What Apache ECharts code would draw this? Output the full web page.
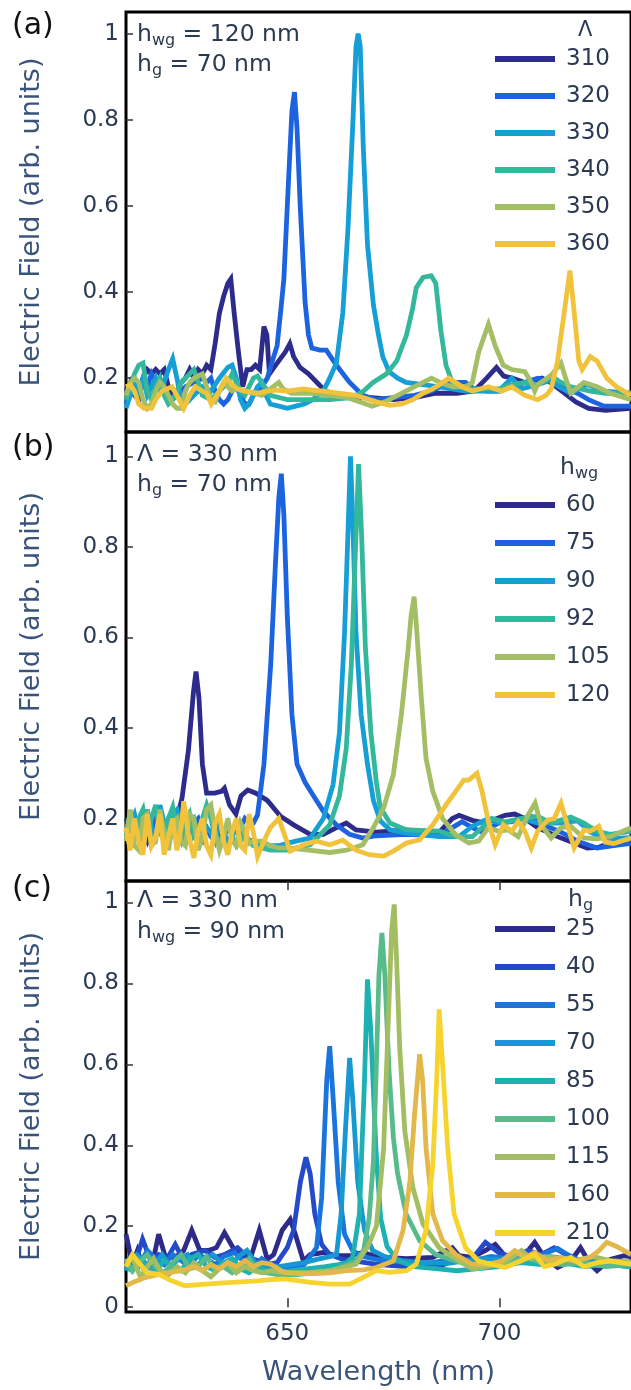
<!DOCTYPE html>
<html>
<head>
<meta charset="utf-8">
<script src="https://cdn.jsdelivr.net/npm/echarts@6/dist/echarts.min.js"></script>
<style>
  html, body { margin: 0; padding: 0; background: #fff; }
  #chart { width: 631px; height: 1390px; }
</style>
</head>
<body>
<div id="chart"></div>
<script>
// ---- data: [wavelength (nm), electric field (arb. units)] ----

// (a) period sweep, h_wg = 120 nm, h_g = 70 nm
const namesA = ['310', '320', '330', '340', '350', '360'];
const a310 = [[612,0.17],[613,0.19],[614,0.16],[615,0.15],[616,0.2],[617,0.22],[618,0.21],[619,0.22],[620,0.21],[621,0.22],[622,0.18],[623,0.16],[624,0.17],[625,0.19],[626,0.2],[627,0.22],[628,0.2],[629,0.22],[630,0.21],[631,0.23],[632,0.22],[633,0.28],[634,0.35],[635,0.39],[636,0.42],[636.7,0.43],[637.5,0.35],[638.5,0.26],[639.5,0.18],[640.5,0.22],[641.5,0.22],[642.5,0.23],[643.5,0.22],[644.5,0.32],[645.2,0.3],[645.8,0.21],[646.5,0.22],[648,0.24],[649.5,0.26],[650.6,0.28],[651.5,0.25],[653,0.225],[655,0.21],[657,0.19],[659,0.17],[662,0.16],[666,0.155],[670,0.155],[675,0.15],[680,0.155],[685,0.165],[690,0.165],[694,0.17],[697,0.2],[699.3,0.225],[701,0.205],[703,0.2],[706,0.19],[708,0.195],[710,0.2],[712,0.19],[714,0.175],[716,0.16],[718,0.145],[721,0.13],[725,0.125],[731,0.13]];
const a320 = [[612,0.14],[613,0.17],[614,0.2],[615,0.17],[616,0.2],[617,0.18],[618,0.21],[619,0.19],[620,0.2],[621,0.17],[622,0.16],[623,0.15],[624,0.16],[626,0.18],[628,0.19],[630,0.2],[631,0.19],[632,0.2],[633,0.17],[634,0.15],[635,0.14],[636,0.15],[637,0.17],[638,0.18],[639,0.16],[640,0.14],[641,0.14],[642,0.16],[643,0.17],[644,0.18],[645.3,0.2],[646.5,0.24],[647.6,0.275],[648.5,0.36],[649.2,0.43],[650.3,0.66],[651.1,0.82],[651.7,0.864],[652.3,0.78],[653.1,0.59],[654.2,0.376],[655,0.3],[655.8,0.27],[657.7,0.265],[659.2,0.265],[661.6,0.23],[664.7,0.19],[667.8,0.16],[671,0.15],[675,0.155],[680,0.16],[684,0.17],[686,0.18],[689,0.19],[692,0.19],[694,0.175],[697,0.17],[700,0.17],[703,0.18],[706,0.19],[709,0.2],[711,0.195],[713,0.19],[716,0.175],[718.4,0.165],[721,0.15],[724.6,0.135],[731,0.135]];
const a330 = [[612,0.13],[613,0.16],[614,0.19],[615,0.17],[616,0.2],[617,0.16],[618,0.18],[619,0.2],[620,0.17],[621,0.19],[622,0.22],[623,0.245],[624,0.2],[625,0.15],[626,0.14],[628,0.16],[630,0.18],[632,0.17],[634,0.2],[636,0.225],[637,0.23],[638,0.2],[639,0.15],[640,0.13],[641,0.14],[642,0.16],[643,0.18],[644,0.19],[645,0.16],[646,0.14],[648,0.135],[650,0.13],[652,0.135],[654,0.14],[656,0.15],[658.5,0.17],[660,0.2],[661.6,0.236],[663.1,0.353],[664.3,0.546],[665.4,0.78],[666.2,0.97],[666.7,1.0],[667.2,0.97],[667.9,0.74],[668.9,0.51],[670.3,0.37],[671.5,0.3],[672.5,0.25],[674,0.215],[676,0.2],[678,0.19],[682,0.185],[685.8,0.18],[692,0.17],[696,0.17],[699.8,0.17],[702.9,0.2],[705.2,0.175],[709,0.185],[712,0.195],[714,0.18],[716.8,0.165],[720.7,0.185],[724.6,0.17],[731,0.165]];
const a340 = [[612,0.15],[613,0.18],[614,0.21],[615,0.23],[616,0.235],[617,0.17],[618,0.15],[619,0.18],[620,0.2],[621,0.16],[622,0.14],[623,0.15],[624,0.17],[625,0.19],[626,0.2],[627,0.21],[628,0.22],[629,0.19],[630,0.16],[632,0.15],[634,0.17],[636,0.19],[637,0.21],[638,0.19],[639,0.17],[640,0.16],[641,0.18],[642,0.2],[643,0.205],[644,0.19],[646,0.16],[648,0.155],[650,0.15],[655,0.15],[660,0.15],[665,0.155],[668,0.17],[670.2,0.19],[673.4,0.21],[675.8,0.24],[678.1,0.3],[679.5,0.36],[680.4,0.41],[682,0.434],[683.9,0.438],[685,0.42],[686.2,0.31],[687.4,0.23],[688.9,0.19],[692,0.175],[696.7,0.175],[699.8,0.175],[702.9,0.185],[706,0.19],[709,0.185],[712.2,0.205],[714.5,0.19],[716.8,0.18],[721.4,0.17],[725,0.165],[731,0.165]];
const a350 = [[612,0.16],[613,0.19],[614,0.2],[615,0.19],[616,0.15],[617,0.13],[618,0.14],[619,0.17],[620,0.19],[621,0.18],[622,0.16],[623,0.14],[624,0.13],[625,0.13],[626,0.17],[627,0.19],[628,0.2],[629,0.205],[630,0.21],[631,0.18],[632,0.15],[633,0.145],[634,0.17],[635,0.19],[636,0.18],[637,0.17],[638,0.175],[640,0.17],[642,0.165],[644,0.16],[646,0.175],[648,0.19],[649,0.175],[651,0.165],[655,0.165],[660,0.16],[664,0.155],[667,0.145],[670,0.135],[673,0.145],[676,0.16],[679,0.175],[682,0.19],[684,0.2],[686,0.19],[689,0.18],[692,0.18],[693.6,0.19],[695.1,0.26],[697.4,0.325],[699,0.275],[700.9,0.23],[702.9,0.22],[706,0.215],[707.5,0.19],[708.3,0.17],[709,0.185],[710.6,0.195],[712.5,0.21],[714.5,0.235],[715.6,0.2],[716.8,0.165],[719.9,0.19],[723,0.18],[726.1,0.165],[731,0.15]];
const a360 = [[612,0.18],[613,0.185],[614,0.17],[615,0.14],[616.3,0.13],[618,0.13],[619,0.15],[620.5,0.17],[622.8,0.18],[624,0.16],[625.6,0.13],[627,0.16],[628.3,0.18],[630,0.17],[631,0.165],[632.1,0.14],[634,0.17],[635.6,0.2],[637,0.185],[638.3,0.175],[640,0.17],[643,0.165],[645,0.17],[647.6,0.172],[650,0.17],[653.8,0.175],[656,0.172],[658.5,0.17],[662,0.165],[666.2,0.16],[671,0.145],[674.2,0.137],[677,0.14],[679.6,0.15],[682,0.165],[684.3,0.175],[688.1,0.2],[691.2,0.18],[693.6,0.17],[697.4,0.18],[700.5,0.17],[702.9,0.18],[706,0.16],[709,0.15],[711,0.16],[712.2,0.175],[713.7,0.24],[715.3,0.355],[716.6,0.45],[717.6,0.355],[718.7,0.24],[719.5,0.22],[721.4,0.25],[723,0.24],[725.3,0.2],[727.6,0.18],[731,0.16]];

// (b) waveguide thickness sweep, period = 330 nm, h_g = 70 nm
const namesB = ['60', '75', '90', '92', '105', '120'];
const b60 = [[612,0.2],[613,0.18],[614,0.16],[615,0.19],[616,0.17],[617,0.15],[618,0.18],[619,0.2],[620,0.17],[621,0.16],[622,0.19],[623,0.21],[624,0.2],[625.2,0.245],[626.7,0.35],[627.9,0.48],[628.5,0.525],[629.2,0.466],[630,0.32],[631,0.256],[632.9,0.256],[634.5,0.26],[635.2,0.267],[636.4,0.23],[637.9,0.21],[639.1,0.25],[640.7,0.263],[642.6,0.256],[645.3,0.24],[648.4,0.205],[651.5,0.186],[655.4,0.165],[658.5,0.165],[661.6,0.18],[663.9,0.19],[666.2,0.175],[671,0.17],[678,0.175],[685.8,0.17],[688.9,0.2],[690.5,0.207],[693.6,0.196],[696.7,0.19],[701.3,0.207],[703.6,0.21],[706,0.2],[709,0.18],[713.7,0.16],[717.6,0.146],[720.7,0.135],[723.5,0.137],[726.1,0.146],[731,0.157]];
const b75 = [[612,0.17],[613,0.2],[614,0.18],[615,0.16],[616,0.2],[617,0.19],[618,0.17],[619,0.21],[620,0.2],[621,0.18],[622,0.2],[623,0.17],[624,0.19],[625,0.2],[626,0.18],[627,0.17],[628,0.19],[629,0.2],[630,0.17],[631,0.18],[632,0.16],[633,0.15],[634,0.17],[635,0.16],[636,0.18],[637,0.17],[638,0.19],[639,0.18],[640,0.2],[641,0.19],[642,0.19],[643,0.208],[644.5,0.32],[646.1,0.54],[647.2,0.76],[648,0.907],[648.6,0.962],[649.2,0.87],[650,0.65],[651.1,0.43],[652.3,0.32],[654.2,0.28],[656.2,0.25],[658.5,0.216],[661.6,0.186],[664.7,0.165],[667.8,0.157],[671,0.162],[678,0.165],[685.8,0.162],[688.9,0.18],[691.2,0.193],[693.6,0.18],[695.9,0.17],[699.8,0.19],[702.9,0.193],[707.5,0.205],[710.6,0.185],[714.5,0.17],[718.4,0.15],[723,0.135],[726.9,0.14],[731,0.145]];
const b90 = [[612,0.16],[613,0.19],[614,0.21],[615,0.17],[616,0.15],[617,0.22],[618,0.18],[619,0.16],[620,0.23],[621,0.19],[622,0.15],[623,0.21],[624,0.22],[625,0.17],[626,0.15],[627,0.19],[628,0.2],[629,0.16],[630,0.15],[631,0.18],[632,0.17],[633,0.15],[634,0.19],[635,0.17],[636,0.15],[637,0.16],[638,0.18],[639,0.17],[640,0.155],[642,0.15],[644,0.145],[646,0.14],[648,0.14],[650,0.145],[652,0.15],[655.4,0.157],[658.5,0.2],[660.8,0.275],[662.3,0.39],[663.5,0.61],[664.3,0.83],[664.9,1.0],[665.4,0.87],[666.2,0.61],[667.4,0.43],[668.9,0.32],[670.3,0.24],[671.9,0.195],[674.2,0.175],[678,0.168],[685.8,0.16],[690.5,0.16],[693.6,0.183],[696.7,0.197],[700.5,0.19],[705.2,0.2],[709,0.19],[713.7,0.19],[718.4,0.195],[721.4,0.17],[724.6,0.155],[731,0.158]];
const b92 = [[612,0.17],[613,0.21],[614,0.15],[615,0.2],[616,0.22],[617,0.16],[618,0.2],[619,0.23],[620,0.17],[621,0.15],[622,0.2],[623,0.225],[624,0.17],[625,0.15],[626,0.19],[627,0.21],[628,0.16],[629,0.17],[630,0.2],[631,0.23],[632,0.2],[633,0.16],[634,0.14],[635,0.17],[636,0.19],[637,0.16],[638,0.14],[639,0.15],[640,0.17],[641,0.15],[642,0.14],[644,0.135],[646,0.13],[648,0.13],[650,0.13],[652,0.135],[655.4,0.142],[660,0.186],[662.3,0.25],[663.9,0.355],[665.1,0.54],[666.1,0.8],[666.8,0.983],[667.5,0.83],[668.4,0.58],[669.7,0.39],[671,0.28],[671.9,0.225],[674.2,0.19],[678.1,0.175],[685.8,0.172],[689.7,0.16],[693.6,0.16],[698.2,0.2],[701.3,0.192],[705.2,0.2],[709,0.205],[712.2,0.19],[716.8,0.203],[719.9,0.19],[723,0.172],[726.1,0.165],[731,0.172]];
const b105 = [[612,0.15],[613,0.22],[614,0.14],[615,0.13],[616,0.2],[617,0.21],[618,0.14],[619,0.15],[620,0.22],[621,0.17],[622,0.13],[623,0.19],[624,0.2],[625,0.15],[626,0.14],[627,0.21],[628,0.2],[629,0.13],[630,0.16],[631,0.22],[632,0.23],[633,0.17],[634,0.13],[635,0.16],[636,0.2],[637,0.15],[638,0.14],[639,0.19],[640,0.17],[641,0.145],[642,0.15],[644,0.15],[646,0.14],[648,0.135],[650,0.135],[655,0.13],[660,0.125],[664,0.13],[667.8,0.142],[670.3,0.18],[672.7,0.223],[675,0.297],[676.9,0.43],[678.5,0.576],[679.2,0.65],[679.9,0.69],[680.4,0.63],[681.6,0.466],[682.7,0.333],[684.3,0.26],[686.6,0.2],[689.7,0.164],[692.8,0.146],[695.1,0.15],[697.4,0.18],[699.8,0.172],[702,0.175],[704.4,0.16],[706.7,0.207],[708.4,0.234],[709.8,0.186],[712.2,0.157],[714.5,0.18],[716.8,0.183],[719.9,0.157],[723,0.155],[726.1,0.16],[731,0.18]];
const b120 = [[612,0.18],[613,0.13],[614,0.2],[615,0.15],[616,0.12],[617,0.21],[618,0.14],[619,0.16],[620,0.21],[621,0.12],[622,0.16],[623,0.2],[624,0.13],[625,0.18],[625.6,0.238],[626.6,0.17],[628,0.113],[629,0.17],[630,0.2],[631,0.14],[632,0.12],[633,0.19],[634,0.21],[635,0.15],[636,0.12],[637,0.17],[638,0.2],[639,0.14],[640,0.13],[641,0.21],[642,0.17],[643,0.116],[644.5,0.15],[646,0.18],[648,0.2],[649.5,0.16],[650.7,0.128],[653.8,0.142],[656.9,0.15],[660,0.142],[663.1,0.152],[666.2,0.13],[669.3,0.12],[672.7,0.117],[675,0.128],[678.1,0.146],[681.2,0.153],[684.3,0.186],[687.4,0.23],[689.7,0.26],[691.6,0.285],[692.8,0.285],[694.7,0.3],[695.9,0.26],[697.4,0.193],[699,0.142],[700.9,0.186],[702.9,0.172],[704.4,0.193],[706,0.172],[707.5,0.135],[709,0.172],[711.4,0.197],[712.9,0.2],[714.5,0.234],[716,0.186],[717.6,0.135],[719.9,0.175],[721.4,0.172],[723.4,0.183],[724.9,0.148],[726.9,0.145],[731,0.157]];

// (c) grating height sweep, period = 330 nm, h_wg = 90 nm
const namesC = ['25', '40', '55', '70', '85', '100', '115', '160', '210'];
const c25 = [[612,0.18],[613.5,0.106],[614.7,0.14],[616.3,0.09],[618.2,0.106],[619.7,0.18],[621.3,0.123],[623.6,0.123],[625.6,0.14],[627.5,0.19],[629.4,0.14],[631.4,0.14],[633.3,0.147],[635.2,0.184],[637.6,0.14],[639.9,0.123],[641.4,0.123],[643.4,0.19],[645.3,0.118],[646.8,0.13],[648.8,0.19],[650.7,0.217],[651.9,0.18],[653.8,0.114],[655.4,0.13],[658.5,0.135],[661.6,0.127],[664.7,0.127],[667.8,0.135],[671,0.125],[678,0.12],[684.3,0.123],[686.6,0.135],[688.9,0.147],[690.5,0.127],[693.6,0.123],[696.7,0.14],[699,0.155],[701.3,0.127],[706,0.13],[708.3,0.16],[710.6,0.123],[713.7,0.098],[716.8,0.114],[719.1,0.147],[721.4,0.106],[723,0.09],[726.1,0.118],[729.4,0.127],[731,0.125]];
const c40 = [[612,0.11],[613.5,0.13],[614.5,0.12],[615.9,0.168],[617.8,0.115],[619.7,0.13],[621.7,0.12],[623.6,0.155],[625.6,0.115],[627.5,0.13],[630.6,0.14],[632.9,0.123],[635.2,0.13],[638.3,0.147],[640.7,0.123],[643,0.115],[645.3,0.106],[647.6,0.11],[650,0.147],[651.5,0.19],[653.1,0.31],[654.4,0.37],[655.4,0.33],[656.5,0.23],[658.1,0.155],[660,0.13],[663.1,0.118],[666.2,0.114],[671,0.106],[678,0.1],[685.8,0.1],[689.7,0.118],[693.6,0.12],[696.7,0.16],[699.8,0.135],[702.9,0.123],[706.7,0.14],[709.8,0.13],[712.9,0.147],[716.8,0.123],[720.7,0.106],[724.6,0.114],[729.4,0.106],[731,0.11]];
const c55 = [[612,0.1],[613.5,0.125],[615,0.1],[617,0.14],[619,0.12],[621,0.105],[623,0.13],[625,0.115],[627,0.1],[629,0.13],[631,0.12],[633,0.105],[635,0.125],[637.6,0.135],[640,0.11],[642,0.1],[644,0.12],[646,0.105],[648,0.1],[651,0.1],[654,0.105],[656.9,0.147],[658.1,0.27],[659.3,0.56],[660,0.645],[660.8,0.518],[662,0.31],[663.5,0.18],[665.4,0.14],[667.8,0.125],[671,0.118],[678,0.11],[684,0.11],[690,0.12],[694,0.115],[698,0.125],[702,0.12],[706,0.125],[710,0.13],[713.7,0.145],[716,0.13],[719,0.115],[722,0.12],[726,0.105],[731,0.1]];
const c70 = [[612,0.09],[613,0.12],[614.5,0.13],[616.5,0.11],[618.5,0.1],[620.5,0.13],[622.5,0.1],[624.5,0.12],[626.5,0.13],[628.5,0.1],[630.5,0.12],[632.5,0.13],[634.5,0.11],[636.5,0.1],[638.5,0.125],[640.5,0.14],[642.5,0.11],[645,0.1],[648,0.1],[651,0.105],[654,0.11],[657.7,0.12],[660,0.125],[661.6,0.13],[662.7,0.23],[663.7,0.435],[664.7,0.616],[665.4,0.518],[666.6,0.31],[668.2,0.19],[670.1,0.14],[673,0.125],[677,0.115],[682,0.11],[688,0.108],[692,0.115],[696,0.12],[700,0.118],[704,0.125],[708,0.12],[712,0.125],[716,0.12],[720,0.115],[725,0.11],[731,0.112]];
const c85 = [[612,0.1],[613.5,0.09],[615,0.12],[617,0.1],[619,0.09],[621,0.115],[623,0.1],[625,0.09],[627,0.12],[629,0.13],[631,0.1],[633,0.09],[635,0.11],[637,0.12],[639,0.095],[641,0.085],[643,0.1],[645,0.09],[648,0.085],[651,0.09],[655,0.095],[659,0.1],[662,0.105],[664,0.11],[665.4,0.123],[667,0.23],[668.2,0.56],[668.9,0.81],[669.7,0.68],[670.9,0.39],[672,0.22],[673.5,0.15],[676,0.115],[680,0.1],[685,0.095],[690,0.09],[695,0.095],[700,0.1],[705,0.11],[710,0.105],[715,0.11],[720,0.1],[725,0.105],[731,0.1]];
const c100 = [[612,0.12],[613.5,0.09],[615,0.11],[617,0.13],[619,0.1],[621,0.085],[623,0.11],[625,0.13],[627,0.095],[629,0.1],[631,0.125],[633,0.09],[635,0.1],[637,0.085],[639,0.105],[641,0.12],[643,0.09],[645,0.085],[648,0.08],[652,0.08],[656,0.085],[660,0.09],[663,0.1],[666.2,0.114],[668,0.14],[669.3,0.22],[670.3,0.36],[671,0.6],[671.6,0.82],[672.3,0.925],[673,0.82],[674,0.58],[675,0.42],[676,0.33],[678,0.23],[681.2,0.164],[685,0.13],[689.7,0.114],[695.1,0.098],[700,0.105],[706,0.123],[710,0.11],[715,0.105],[720,0.11],[725,0.1],[731,0.105]];
const c115 = [[612,0.11],[613.5,0.12],[615.5,0.073],[617,0.1],[618.5,0.12],[620,0.09],[622,0.08],[624,0.1],[626,0.085],[628,0.11],[630,0.09],[632,0.075],[634,0.095],[636,0.11],[638,0.085],[640,0.1],[642,0.09],[644,0.085],[646,0.09],[650,0.085],[655,0.085],[660,0.09],[664,0.1],[666.2,0.106],[669,0.15],[671,0.2],[672.7,0.39],[673.8,0.707],[674.6,0.93],[675.2,0.995],[675.8,0.847],[676.5,0.64],[677.7,0.435],[679.6,0.295],[682,0.205],[685.8,0.147],[690.5,0.114],[693.6,0.094],[697,0.1],[701,0.11],[705.2,0.14],[707.5,0.12],[710.6,0.125],[715,0.12],[718,0.115],[722,0.125],[726,0.115],[731,0.112]];
const c160 = [[612,0.053],[614,0.063],[616.5,0.073],[619.7,0.081],[622,0.085],[625,0.09],[628,0.1],[630,0.09],[632,0.105],[634,0.095],[636,0.11],[638,0.1],[640,0.115],[642,0.1],[644,0.11],[646.1,0.106],[649.2,0.086],[653,0.083],[656.5,0.083],[660,0.085],[664,0.09],[668,0.092],[671,0.098],[675,0.114],[677.3,0.19],[678.9,0.31],[680,0.477],[681.2,0.625],[681.9,0.56],[682.7,0.394],[684.3,0.23],[686.6,0.164],[689.7,0.13],[693.6,0.106],[697.4,0.106],[700.5,0.114],[703.6,0.14],[706,0.123],[708.3,0.135],[711.4,0.114],[714.5,0.123],[717.6,0.114],[721.4,0.123],[723.5,0.14],[725.3,0.16],[727.6,0.15],[731,0.13]];
const c210 = [[612,0.1],[613.5,0.13],[615,0.11],[617,0.085],[619.7,0.081],[622.8,0.065],[625.9,0.053],[630.6,0.057],[635,0.06],[640,0.063],[643,0.065],[646,0.068],[649.2,0.07],[652,0.066],[655.4,0.061],[660,0.057],[664.7,0.057],[667.8,0.073],[671,0.09],[674,0.086],[678.1,0.09],[680.4,0.106],[682.7,0.19],[684.3,0.353],[685.2,0.56],[685.8,0.736],[686.6,0.6],[687.8,0.394],[689.3,0.23],[692,0.147],[695.1,0.114],[698,0.106],[701.3,0.098],[705,0.114],[708.3,0.13],[710.6,0.1],[713,0.106],[716.8,0.123],[719.9,0.1],[723,0.11],[726.1,0.114],[731,0.106]];

const dataA = [a310, a320, a330, a340, a350, a360];
const dataB = [b60, b75, b90, b92, b105, b120];
const dataC = [c25, c40, c55, c70, c85, c100, c115, c160, c210];

const xTicks = [650, 700];
const yTicksAB = [0.2, 0.4, 0.6, 0.8, 1];
const yTicksC = [0, 0.2, 0.4, 0.6, 0.8, 1];

// ---- styles ----
const colors6 = ['#2d2b8c', '#1c63e0', '#159fd6', '#34b89b', '#a3be65', '#f1c33d'];
const colors9 = ['#2d2a88', '#2449c9', '#1a74de', '#1798d2', '#1eb1b2', '#58bb8c', '#a3be62', '#e2b84b', '#f7d32e'];
const FONT = 'DejaVu Sans';
const TXT = '#2b3a52';
const TITLE_TXT = '#3a5479';

const chart = echarts.init(document.getElementById('chart'));

const grids = [
  { left: 126, top: 12, width: 512, height: 420 },
  { left: 126, top: 432, width: 512, height: 449 },
  { left: 126, top: 881, width: 512, height: 431 }
].map(g => Object.assign(g, { show: true, borderColor: '#000', borderWidth: 3 }));

const yRanges = [[0.075, 1.05], [0.062, 1.054], [-0.012, 1.053]];

const tickStyle = { color: '#333', width: 1.5 };
const fmt = v => String(Math.round(v * 10) / 10);

function yAxis(i) {
  const ticks = i === 2 ? yTicksC : yTicksAB;
  return {
    type: 'value', gridIndex: i, min: yRanges[i][0], max: yRanges[i][1],
    axisLine: { show: false }, splitLine: { show: false },
    axisTick: { show: true, inside: true, length: 7, customValues: ticks, lineStyle: tickStyle },
    axisLabel: { customValues: ticks, formatter: fmt, fontSize: 23, color: TXT, fontFamily: FONT, margin: 7 },
    name: 'Electric Field (arb. units)', nameLocation: 'middle', nameRotate: 90, nameGap: 81,
    nameTextStyle: { fontSize: 27, color: TITLE_TXT, fontFamily: FONT }
  };
}

function xAxis(i) {
  const ax = {
    type: 'value', gridIndex: i, min: 612, max: 731,
    axisLine: { show: false }, splitLine: { show: false },
    axisTick: { show: false }, axisLabel: { show: false }
  };
  if (i === 2) {
    ax.axisTick = { show: true, inside: true, length: 9, customValues: xTicks, lineStyle: tickStyle };
    ax.axisLabel = { show: true, customValues: xTicks, fontSize: 23, color: TXT, fontFamily: FONT, margin: 11 };
    ax.name = 'Wavelength (nm)';
    ax.nameLocation = 'middle';
    ax.nameGap = 47;
    ax.nameTextStyle = { fontSize: 27, color: TITLE_TXT, fontFamily: FONT };
  }
  return ax;
}

const xAxes = [xAxis(0), xAxis(1), xAxis(2), {
  type: 'value', gridIndex: 2, position: 'top', min: 612, max: 731,
  axisLine: { show: false }, splitLine: { show: false }, axisLabel: { show: false },
  axisTick: { show: true, inside: true, length: 9, customValues: xTicks, lineStyle: tickStyle }
}];

const series = [];
function addPanel(idx, names, data, cols) {
  names.forEach((n, k) => {
    series.push({
      name: n, type: 'line', xAxisIndex: idx, yAxisIndex: idx,
      data: data[k], showSymbol: false, symbol: 'none',
      color: cols[k], lineStyle: { width: 4.8, color: cols[k], join: 'miter', miterLimit: 4 },
      z: 3 + k
    });
  });
}
addPanel(0, namesA, dataA, colors6);
addPanel(1, namesB, dataB, colors6);
addPanel(2, namesC, dataC, colors9);

function legend(names, top, gap) {
  return {
    data: names, orient: 'vertical', left: 495, top: top, padding: 0,
    itemWidth: 60, itemHeight: 6, itemGap: gap, icon: 'rect', selectedMode: false,
    textStyle: { fontSize: 23, color: TXT, fontFamily: FONT, lineHeight: 26, padding: [0, 0, 0, 6] }
  };
}

const main = { fontSize: 23.5, fontWeight: 'normal', color: TXT, fontFamily: FONT, lineHeight: 26 };
const sub = { fontSize: 16, fontWeight: 'normal', color: TXT, fontFamily: FONT, lineHeight: 15, padding: [11, 0, 0, 0] };
function note(text, left, top, size) {
  return {
    text: text, left: left, top: top, padding: 0,
    textStyle: { fontWeight: 'normal', rich: { m: Object.assign({}, main, size ? { fontSize: size } : {}), s: sub } }
  };
}
function panelLabel(text, top) {
  return { text: text, left: 12, top: top, padding: 0,
    textStyle: { fontSize: 30, fontWeight: 'normal', color: '#111', fontFamily: FONT, lineHeight: 30 } };
}

chart.setOption({
  animation: false,
  backgroundColor: '#fff',
  grid: grids,
  xAxis: xAxes,
  yAxis: [yAxis(0), yAxis(1), yAxis(2)],
  legend: [legend(namesA, 46, 11), legend(namesB, 492, 12), legend(namesC, 916, 12)],
  title: [
    panelLabel('(a)', 11), panelLabel('(b)', 433), panelLabel('(c)', 874),
    note('{m|h}{s|wg}{m| = 120 nm}', 137, 22),
    note('{m|h}{s|g}{m| = 70 nm}', 137, 52),
    note('{m|Λ = 330 nm}', 137, 442),
    note('{m|h}{s|g}{m| = 70 nm}', 137, 472),
    note('{m|Λ = 330 nm}', 137, 888),
    note('{m|h}{s|wg}{m| = 90 nm}', 137, 919),
    note('{m|Λ}', 578, 18, 21),
    note('{m|h}{s|wg}', 560, 455),
    note('{m|h}{s|g}', 568, 887)
  ],
  series: series
});
</script>
</body>
</html>
